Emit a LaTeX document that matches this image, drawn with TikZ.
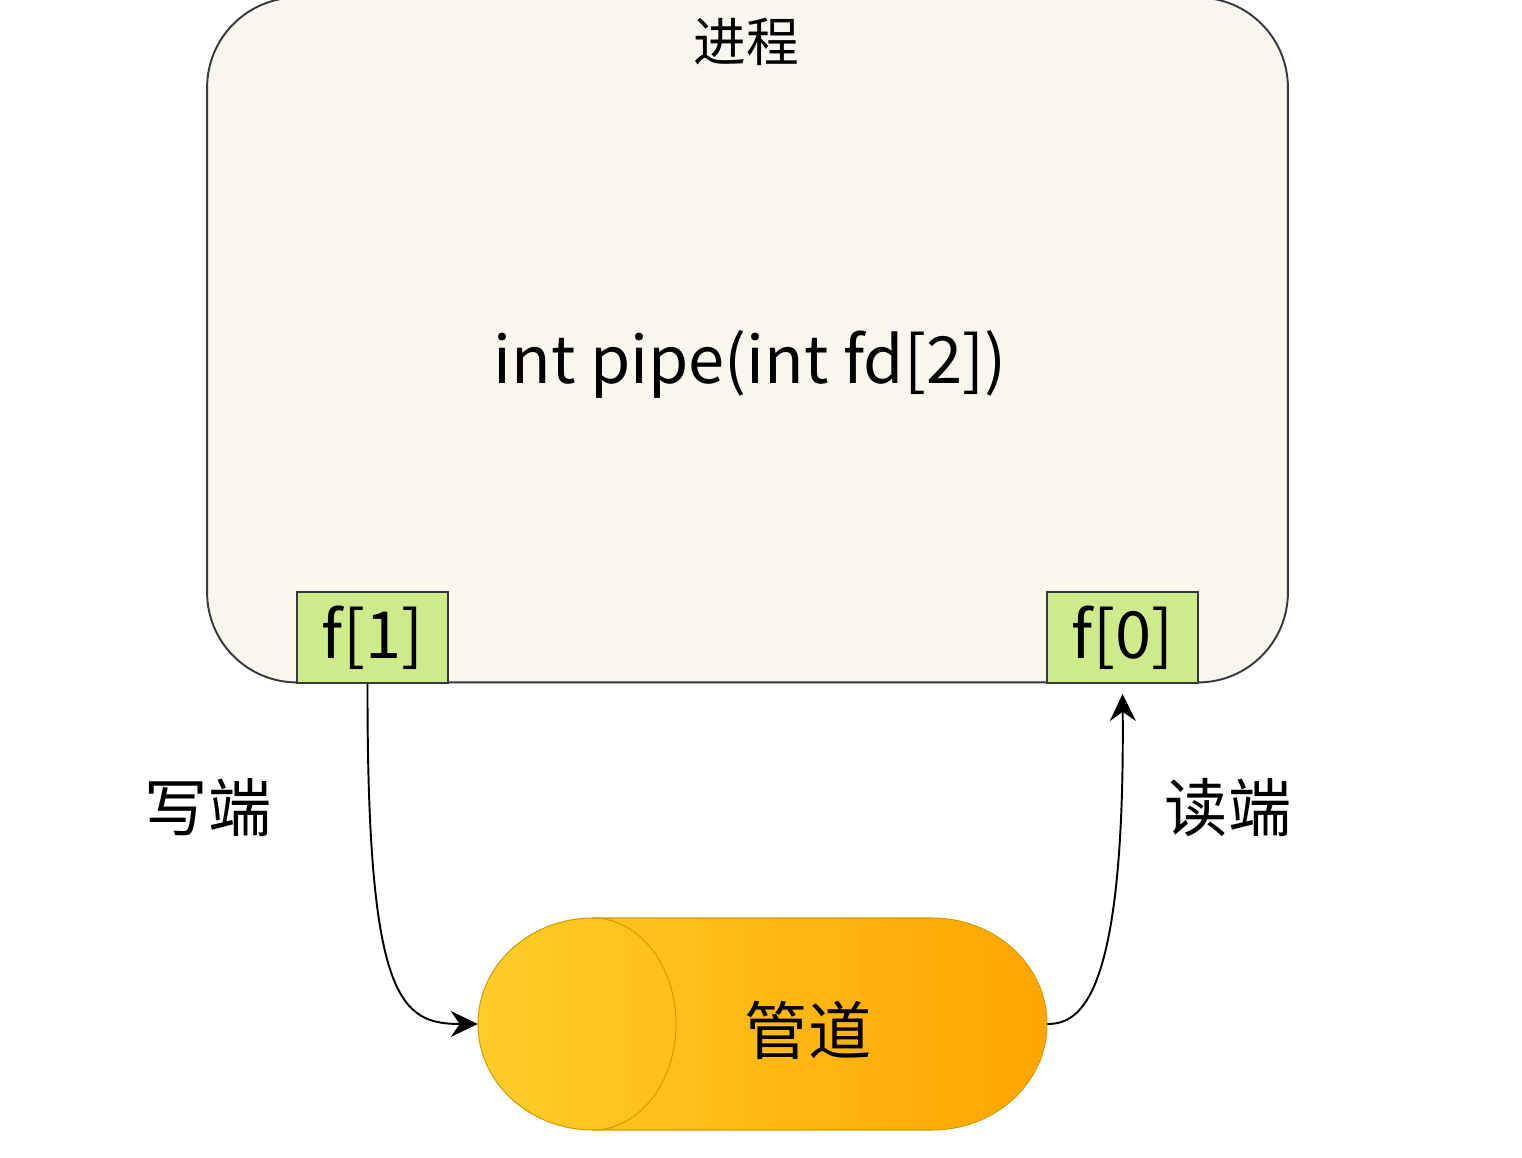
\documentclass[tikz,border=0pt]{standalone}
\usepackage{fontspec}
\setmainfont{Noto Sans CJK SC}
\usetikzlibrary{arrows.meta}
\definecolor{procfill}{HTML}{F9F7ED}
\definecolor{procline}{HTML}{36393D}
\definecolor{fdfill}{HTML}{CDEB8B}
\definecolor{pipeleft}{HTML}{FFCD28}
\definecolor{piperight}{HTML}{FFA500}
\definecolor{pipeline}{HTML}{D79B00}

\begin{document}
\begin{tikzpicture}[x=0.02cm, y=0.02cm]
    \useasboundingbox[fill=white] (0,0) rectangle (1522,-1158);

    \tikzstyle{pnode} = [line width=1.1pt, draw=procline, fill=procfill, rectangle, rounded corners=1.8cm, minimum width=21.62cm, minimum height=13.7cm, inner sep=0pt]
    \tikzstyle{fnode} = [line width=1.1pt, draw=procline, fill=fdfill, rectangle, minimum width=3.02cm, minimum height=1.82cm, inner sep=0pt, font=\fontsize{37}{40}\selectfont]
    \tikzstyle{tnode} = [inner sep=0pt, font=\fontsize{36}{40}\selectfont]
    \tikzstyle{aline} = [line width=1.1pt, -{Stealth[length=5.4mm, width=5.2mm, inset=1.8mm]}]

    \node[pnode] (proc) at (747.5,-340) {};
    \node[tnode, font=\fontsize{30}{32}\selectfont] (ptitle) at (746,-42) {进程};
    \node[tnode, font=\fontsize{37}{40}\selectfont] (call) at (750,-364) {int pipe(int fd[2])};

    \node[fnode] (f1) at (372.5,-637.5) {\raisebox{-0.1cm}{f[1]}};
    \node[fnode] (f0) at (1122.5,-637.5) {\raisebox{-0.1cm}{f[0]}};

    % pipe
    \node[minimum width=11.38cm, minimum height=4.24cm, inner sep=0pt] (pipe) at (762.5,-1024) {};
    \shade[left color=pipeleft, right color=piperight, draw=pipeline, line width=0.6pt]
      (593,-918) -- (932,-918) arc[start angle=90, end angle=-90, x radius=115, y radius=106]
      -- (593,-1130) arc[start angle=270, end angle=90, x radius=115, y radius=106] -- cycle;
    \draw[pipeline, line width=0.6pt] (593,-918) arc[start angle=90, end angle=-90, x radius=83, y radius=106];
    \node[tnode] (plabel) at (808,-1030) {管道};

    \node[tnode] (wlabel) at (208,-808) {写端};
    \node[tnode] (rlabel) at (1228,-808) {读端};

    % write end and read end
    \draw[aline] ([xshift=-0.1cm]f1.south) .. controls (367,-1000) and (400,-1024) .. (pipe.west);
    \draw[aline, shorten >=0.2cm] (pipe.east) .. controls (1080,-1024) and (1125,-1000) .. (f0.south);
\end{tikzpicture}
\end{document}
